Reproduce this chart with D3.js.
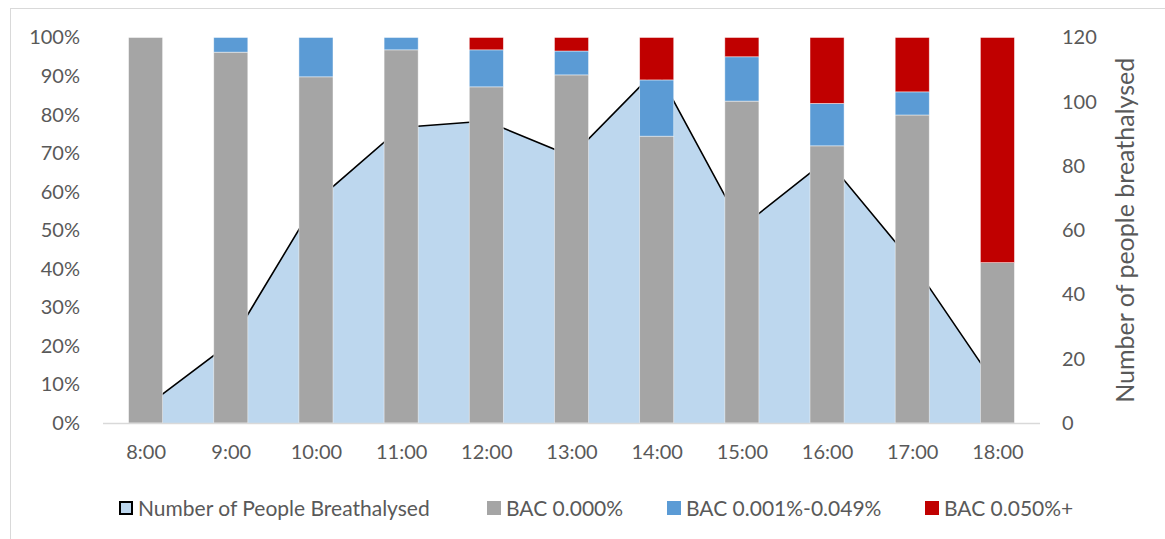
<!DOCTYPE html>
<html lang="en">
<head>
    <meta charset="UTF-8">
    <title>Breathalysed by hour</title>
<script src="https://d3js.org/d3.v7.min.js"></script>
    <style>
        body{
            margin: 0;
            font-family: Lato, "Open Sans", sans-serif;
        }
        text{
            fill: #595959;
        }
    </style>
</head>
<body>
<svg width="1165" height="539" id="canvas"></svg>
<script>

    // data
    const hours = ["8:00","9:00","10:00","11:00","12:00","13:00","14:00","15:00","16:00","17:00","18:00"];
    const peopleBreathalysed = [5, 25, 69, 92, 94, 83, 110, 61, 82, 50, 11];
    const bacZero = [100, 96.2, 89.8, 96.8, 87.2, 90.3, 74.4, 83.5, 71.9, 79.9, 41.6];
    const bacLow = [0, 3.8, 10.2, 3.2, 9.6, 6.2, 14.6, 11.5, 11.0, 6.0, 0];
    const bacHigh = [0, 0, 0, 0, 3.2, 3.5, 11.0, 5.0, 17.1, 14.1, 58.4];
    const leftTicks = [0,10,20,30,40,50,60,70,80,90,100];
    const rightTicks = [0,20,40,60,80,100,120];

    const seriesNames = ["BAC 0.000%","BAC 0.001%-0.049%","BAC 0.050%+"];
    const seriesColors = ["#a5a5a5","#5b9bd5","#c00000"];

    let svg = d3.select("svg");

    // outer chart frame
    svg.append("rect")
        .attr("x",10.5).attr("y",8.5)
        .attr("width",1200).attr("height",600)
        .attr("fill","none").attr("stroke","#d9d9d9");

    const plotLeft = 103, plotRight = 1040, plotTop = 37.5, plotBottom = 423;

    let xScale = d3.scaleBand().domain(hours).range([plotLeft,plotRight]).paddingInner(0.6).paddingOuter(0.3);
    let xPoint = d3.scalePoint().domain(hours).range([plotLeft,plotRight]).padding(0.5);
    let yPct = d3.scaleLinear().domain([0,100]).range([plotBottom,plotTop]);
    let yNum = d3.scaleLinear().domain([0,120]).range([plotBottom,plotTop]);

    // area series (right axis)
    svg.append("path")
        .datum(peopleBreathalysed)
        .attr("fill","#bdd7ee")
        .attr("d", d3.area()
            .x((d,i) => xPoint(hours[i]))
            .y0(plotBottom)
            .y1(d => yNum(d)));
    svg.append("path")
        .datum(peopleBreathalysed)
        .attr("fill","none")
        .attr("stroke","#000")
        .attr("stroke-width",1.6)
        .attr("d", d3.line()
            .x((d,i) => xPoint(hours[i]))
            .y(d => yNum(d)));

    // stacked bars (left axis)
    let rows = hours.map((h,i) => ({hour:h, zero:bacZero[i], low:bacLow[i], high:bacHigh[i]}));
    let stack = d3.stack().keys(["zero","low","high"])(rows);

    svg.append("g").selectAll("g")
        .data(stack)
        .enter().append("g")
        .attr("fill",(d,i) => seriesColors[i])
        .selectAll("rect")
        .data(d => d.filter(s => s[1] - s[0] > 0))
        .enter().append("rect")
        .attr("x", d => xScale(d.data.hour))
        .attr("width", xScale.bandwidth())
        .attr("y", d => yPct(d[1]))
        .attr("height", d => yPct(d[0]) - yPct(d[1]))
        .attr("stroke","#fff")
        .attr("stroke-opacity",0.6)
        .attr("stroke-width",0.75);

    // x axis line
    svg.append("line")
        .attr("x1",plotLeft).attr("x2",plotRight)
        .attr("y1",plotBottom+0.5).attr("y2",plotBottom+0.5)
        .attr("stroke","#d9d9d9").attr("stroke-width",1.5);

    // axes
    let xAxis = svg.append("g")
        .attr("transform",`translate(0,${plotBottom})`)
        .call(d3.axisBottom(xPoint).tickSize(0).tickPadding(22));
    let yAxisL = svg.append("g")
        .attr("transform",`translate(80,0)`)
        .call(d3.axisLeft(yPct).tickValues(leftTicks).tickFormat(d => d + "%").tickSize(0).tickPadding(0));
    let yAxisR = svg.append("g")
        .attr("transform",`translate(1062,0)`)
        .call(d3.axisRight(yNum).tickValues(rightTicks).tickSize(0).tickPadding(0));

    [xAxis,yAxisL,yAxisR].forEach(a => {
        a.select(".domain").remove();
        a.selectAll("text")
            .style("font-family","Lato, sans-serif")
            .style("font-size","20px")
            .attr("fill","#595959");
    });

    // right axis title
    svg.append("text")
        .attr("transform",`translate(1125,${(plotTop+plotBottom)/2}) rotate(-90)`)
        .attr("text-anchor","middle")
        .attr("dy","0.35em")
        .style("font-size","25px")
        .text("Number of people breathalysed");

    // legend
    const legendItems = [
        {name:"Number of People Breathalysed", fill:"#bdd7ee", stroke:"#000", x:119},
        {name:seriesNames[0], fill:seriesColors[0], stroke:"none", x:487},
        {name:seriesNames[1], fill:seriesColors[1], stroke:"none", x:667},
        {name:seriesNames[2], fill:seriesColors[2], stroke:"none", x:925}
    ];
    let legend = svg.append("g").selectAll("g")
        .data(legendItems)
        .enter().append("g")
        .attr("transform", d => `translate(${d.x},501)`);
    legend.append("rect")
        .attr("x",d => d.stroke === "none" ? 0 : 1)
        .attr("y",d => d.stroke === "none" ? 0 : 1)
        .attr("width",d => d.stroke === "none" ? 14 : 12)
        .attr("height",d => d.stroke === "none" ? 14 : 12)
        .attr("fill",d => d.fill)
        .attr("stroke",d => d.stroke)
        .attr("stroke-width",2);
    legend.append("text")
        .attr("x",19)
        .attr("y",7)
        .attr("dy","0.36em")
        .style("font-size","21px")
        .text(d => d.name);

</script>
</body>
</html>
